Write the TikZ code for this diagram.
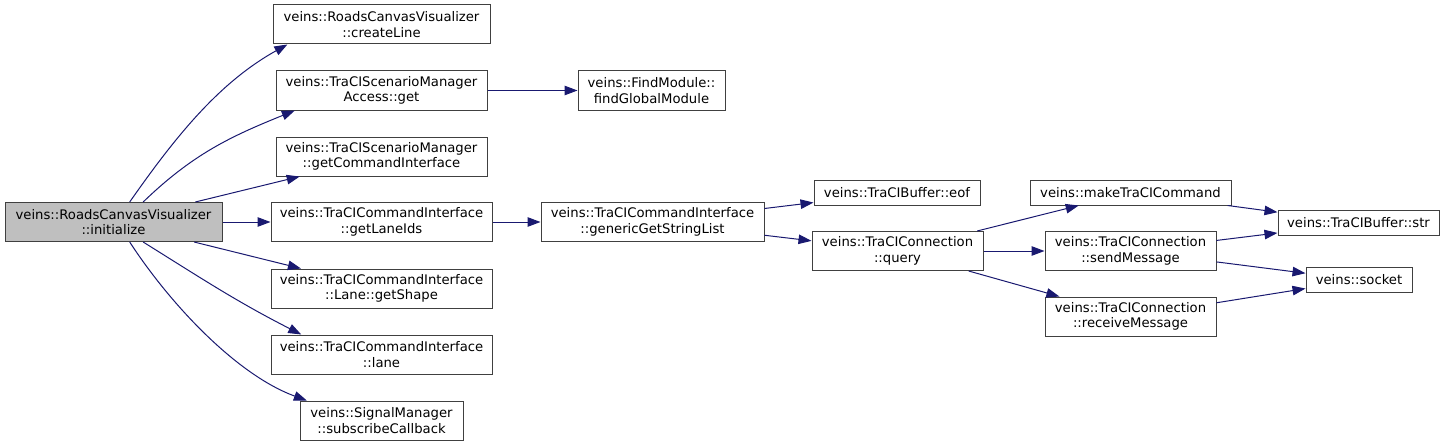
\documentclass[tikz,border=0pt]{standalone}
\usepackage{fontspec}
\setmainfont{DejaVu Sans}
\usetikzlibrary{shapes,arrows.meta,positioning}
\definecolor{edgeblue}{HTML}{191970}
\definecolor{rootgray}{HTML}{BFBFBF}
\definecolor{boxline}{HTML}{404040}
\tikzstyle{func} = [rectangle,draw=boxline,line width=1pt,fill=white,inner sep=0pt,
  minimum height=39pt,align=center,font=\fontsize{13.2}{15.5}\selectfont]
\tikzstyle{leaf} = [func,minimum height=25pt]
\tikzstyle{root} = [func,fill=rootgray]
\tikzstyle{call} = [edgeblue,line width=1pt,-{Triangle[length=13pt,width=9.5pt]}]

\begin{document}
\begin{tikzpicture}[x=1pt,y=1pt]
\useasboundingbox (0,0) rectangle (1445,-444);

\node [root,minimum width=217pt] (init) at (113.5,-222) {veins::RoadsCanvasVisualizer\\::initialize};

\node [func,minimum width=217pt] (createLine) at (381.5,-24.5) {veins::RoadsCanvasVisualizer\\::createLine};
\node [func,minimum width=211pt] (get) at (381.5,-90.5) {veins::TraCIScenarioManager\\Access::get};
\node [func,minimum width=211pt] (getCmd) at (381.5,-156.5) {veins::TraCIScenarioManager\\::getCommandInterface};
\node [func,minimum width=221pt] (getLaneIds) at (381.5,-222) {veins::TraCICommandInterface\\::getLaneIds};
\node [func,minimum width=221pt] (getShape) at (381.5,-288.5) {veins::TraCICommandInterface\\::Lane::getShape};
\node [func,minimum width=221pt] (lane) at (381.5,-354.5) {veins::TraCICommandInterface\\::lane};
\node [func,minimum width=163pt] (subscribe) at (381.5,-420.5) {veins::SignalManager\\::subscribeCallback};

\node [func,minimum width=147pt] (findModule) at (651.5,-90.5) {veins::FindModule::\\findGlobalModule};
\node [func,minimum width=223pt] (generic) at (652.5,-222) {veins::TraCICommandInterface\\::genericGetStringList};

\node [leaf,minimum width=166pt] (eof) at (897,-192.5) {veins::TraCIBuffer::eof};
\node [func,minimum width=171pt] (query) at (897.5,-251) {veins::TraCIConnection\\::query};

\node [leaf,minimum width=201pt] (makeCmd) at (1130.5,-192.5) {veins::makeTraCICommand};
\node [func,minimum width=171pt] (sendMsg) at (1130.5,-251) {veins::TraCIConnection\\::sendMessage};
\node [func,minimum width=171pt] (recvMsg) at (1130.5,-316.5) {veins::TraCIConnection\\::receiveMessage};

\node [leaf,minimum width=161pt] (str) at (1358.5,-223) {veins::TraCIBuffer::str};
\node [leaf,minimum width=106pt] (socket) at (1359,-280) {veins::socket};

\draw [call] (init.51) to[out=55,in=-151,looseness=0.9] (createLine.192);
\draw [call] (init.34) to[out=44,in=-158] (get.193);
\draw [call] (init.-34) to[out=-32,in=153] (lane.166);
\draw [call] (init.-51) to[out=-57,in=160,looseness=0.8] (subscribe.165);

\foreach \from/\to in {init/getCmd,init/getLaneIds,init/getShape,get/findModule,
  getLaneIds/generic,generic/eof,generic/query,query/makeCmd,query/sendMsg,query/recvMsg,
  makeCmd/str,sendMsg/str,sendMsg/socket,recvMsg/socket}
  \draw [call] (\from) -- (\to);
\end{tikzpicture}
\end{document}
